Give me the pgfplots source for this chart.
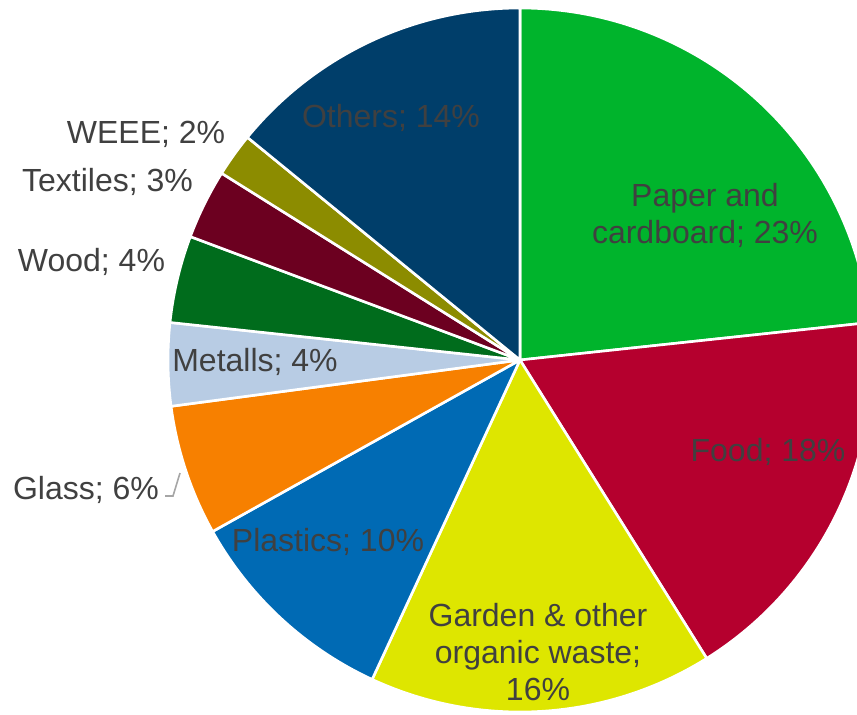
\documentclass[border=0pt]{standalone}
\usepackage{pgfplots}
\usepackage{pgfplotstable}
\pgfplotsset{compat=1.18}
\usepackage{fontspec}
\setmainfont{Liberation Sans}
\definecolor{cPaper}{RGB}{0,180,44}
\definecolor{cFood}{RGB}{181,0,46}
\definecolor{cGarden}{RGB}{222,230,0}
\definecolor{cPlastics}{RGB}{0,106,180}
\definecolor{cGlass}{RGB}{247,128,0}
\definecolor{cMetalls}{RGB}{184,204,228}
\definecolor{cWood}{RGB}{0,108,28}
\definecolor{cTextiles}{RGB}{108,0,32}
\definecolor{cWEEE}{RGB}{140,140,0}
\definecolor{cOthers}{RGB}{0,62,106}
\definecolor{lblgray}{RGB}{64,64,64}
\definecolor{leader}{RGB}{166,166,166}
\pgfplotstableread{
name value col
Paper 23.3 cPaper
Food 17.8 cFood
Garden 15.8 cGarden
Plastics 10.0 cPlastics
Glass 6.0 cGlass
Metalls 3.8 cMetalls
Wood 4.0 cWood
Textiles 3.2 cTextiles
WEEE 2.0 cWEEE
Others 14.1 cOthers
}\wastetable
\begin{document}
\begin{tikzpicture}
\begin{axis}[
  hide axis,
  x=0.5pt, y=0.5pt,
  xmin=-520, xmax=337, ymin=-354, ymax=360,
  clip=true,
]
\pgfplotstablegetrowsof{\wastetable}
\pgfmathtruncatemacro\N{\pgfplotsretval-1}
\def\cum{0}
\pgfplotsforeachungrouped \i in {0,...,\N}{%
  \pgfplotstablegetelem{\i}{value}\of\wastetable \let\v\pgfplotsretval
  \pgfplotstablegetelem{\i}{col}\of\wastetable \let\c\pgfplotsretval
  \pgfmathsetmacro\a{90-3.6*\cum}%
  \pgfmathsetmacro\b{90-3.6*(\cum+\v)}%
  \edef\temp{\noexpand\addplot[fill=\c, draw=white, line width=1.3pt, line join=round, domain=\b:\a, samples=90] ({352*cos(x)},{352*sin(x)}) -- (axis cs:0,0) -- cycle;}%
  \temp
  \pgfmathsetmacro\cum{\cum+\v}%
}
\begin{scope}[every node/.style={font=\fontsize{16}{18.5}\selectfont, text=lblgray, align=center, inner sep=0pt}]
\node at (axis cs:185,144.5) {Paper and\\cardboard; 23\%};
\node at (axis cs:248,-92) {Food; 18\%};
\node at (axis cs:18,-292) {Garden \& other\\organic waste;\\16\%};
\node at (axis cs:-192,-182) {Plastics; 10\%};
\node at (axis cs:-434,-130) {Glass; 6\%};
\node at (axis cs:-265,-2) {Metalls; 4\%};
\node at (axis cs:-428.5,98) {Wood; 4\%};
\node at (axis cs:-412.5,178) {Textiles; 3\%};
\node at (axis cs:-374,226) {WEEE; 2\%};
\node at (axis cs:-129,242) {Others; 14\%};
\end{scope}
\draw[leader, line width=0.8pt] (axis cs:-355,-136) -- (axis cs:-347,-136) -- (axis cs:-340,-113);
\coordinate (ll) at (axis cs:-520,-354);
\coordinate (ur) at (axis cs:337,360);
\end{axis}
\pgfresetboundingbox
\path[use as bounding box] (ll) rectangle (ur);
\end{tikzpicture}
\end{document}
